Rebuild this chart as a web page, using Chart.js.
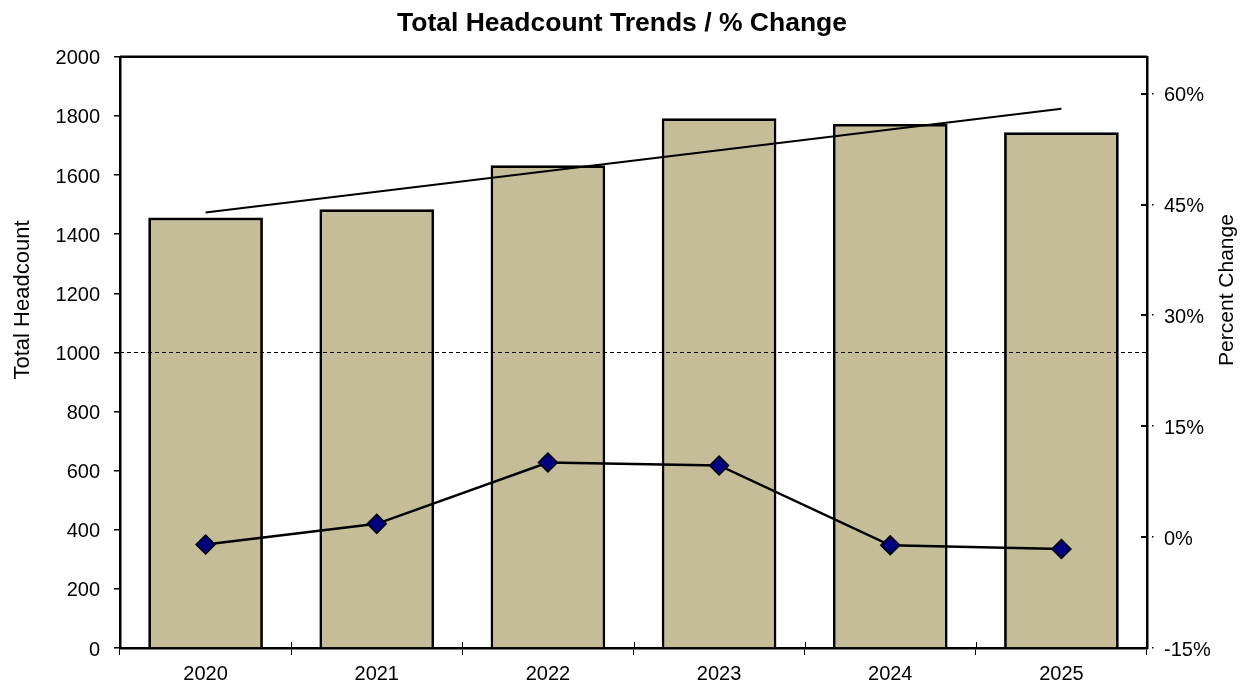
<!DOCTYPE html>
<html>
<head>
<meta charset="utf-8">
<script src="https://cdn.jsdelivr.net/npm/chart.js@4/dist/chart.umd.min.js"></script>
<style>
html,body{margin:0;padding:0;background:#fff;}
#wrap{width:1244px;height:685px;position:relative;}
</style>
</head>
<body>
<div id="wrap"><canvas id="c"></canvas></div>
<script>
const categories = ['2020','2021','2022','2023','2024','2025'];
const headcount = [1456, 1484, 1633, 1792, 1773, 1745];
const percentChange = [-0.010, 0.018, 0.101, 0.097, -0.011, -0.016];
const trendValues = [1473, null, null, null, null, 1824];
const leftTicks = [0,200,400,600,800,1000,1200,1400,1600,1800,2000];
const rightTicks = [-0.15, 0, 0.15, 0.30, 0.45, 0.60];
const referenceLine = 1000;
const leftAxisTitle = 'Total Headcount';
const rightAxisTitle = 'Percent Change';

const FONT = "'Liberation Sans', Arial, sans-serif";

const extrasPlugin = {
  id: 'extras',
  afterDatasetsDraw(chart) {
    const ctx = chart.ctx;
    const a = chart.chartArea;
    const ys = chart.scales.y;
    const y = Math.round(ys.getPixelForValue(referenceLine)) + 0.5;
    ctx.save();
    ctx.strokeStyle = '#000';
    ctx.lineWidth = 1;
    ctx.setLineDash([4, 3]);
    ctx.beginPath();
    ctx.moveTo(a.left, y);
    ctx.lineTo(a.right, y);
    ctx.stroke();
    ctx.restore();
  },
  afterDraw(chart) {
    const s = chart.scales.y1;
    const ctx = chart.ctx;
    const a = chart.chartArea;
    ctx.save();
    ctx.strokeStyle = '#000';
    ctx.fillStyle = '#000';
    ctx.lineWidth = 2;
    s.ticks.forEach(t => {
      const y = Math.round(s.getPixelForValue(t.value));
      ctx.beginPath();
      ctx.moveTo(s.left - 6, y);
      ctx.lineTo(s.left, y);
      ctx.stroke();
      ctx.fillRect(s.left + 5, y - 1, 1.5, 1.5);
    });
    ctx.lineWidth = 2.5;
    ctx.beginPath();
    ctx.moveTo(a.left, a.top);
    ctx.lineTo(a.right, a.top);
    ctx.stroke();
    ctx.lineWidth = 1;
    for (let i = 0; i <= categories.length; i++) {
      const x = Math.round(a.left + (a.right - a.left) * i / categories.length) + 0.5;
      ctx.beginPath();
      ctx.moveTo(x, a.bottom - 6);
      ctx.lineTo(x, a.bottom);
      ctx.stroke();
    }
    ctx.textAlign = 'center';
    ctx.textBaseline = 'alphabetic';
    ctx.font = '22px ' + FONT;
    ctx.save();
    ctx.translate(29, 300);
    ctx.rotate(-Math.PI / 2);
    ctx.fillText(leftAxisTitle, 0, 0);
    ctx.restore();
    ctx.font = '21px ' + FONT;
    ctx.save();
    ctx.translate(1233, 290);
    ctx.rotate(-Math.PI / 2);
    ctx.fillText(rightAxisTitle, 0, 0);
    ctx.restore();
    ctx.restore();
  }
};

new Chart(document.getElementById('c'), {
  data: {
    labels: categories,
    datasets: [
      {
        type: 'line',
        label: 'Trend',
        data: trendValues,
        yAxisID: 'y',
        spanGaps: true,
        borderColor: '#000',
        borderWidth: 2,
        pointRadius: 0,
        fill: false,
        order: 1
      },
      {
        type: 'line',
        label: 'Percent Change',
        data: percentChange,
        yAxisID: 'y1',
        borderColor: '#000',
        borderWidth: 2.5,
        pointStyle: 'rectRot',
        pointRadius: 9.5,
        pointBackgroundColor: '#000080',
        pointBorderColor: '#000',
        pointBorderWidth: 1.5,
        fill: false,
        tension: 0,
        order: 0
      },
      {
        type: 'bar',
        label: 'Total Headcount',
        data: headcount,
        yAxisID: 'y',
        backgroundColor: '#C4BD97',
        borderColor: '#000',
        borderWidth: 2.8,
        categoryPercentage: 0.67,
        barPercentage: 1.0,
        order: 2
      }
    ]
  },
  options: {
    responsive: true,
    maintainAspectRatio: false,
    animation: false,
    devicePixelRatio: 1,
    layout: { padding: 0 },
    plugins: {
      legend: { display: false },
      tooltip: { enabled: false },
      title: {
        display: true,
        text: 'Total Headcount Trends / % Change',
        color: '#000',
        font: { family: FONT, size: 26.5, weight: 'bold' },
        padding: { top: 8, bottom: 17 }
      }
    },
    scales: {
      x: {
        offset: true,
        grid: {
          offset: true,
          drawOnChartArea: false,
          drawTicks: true,
          tickLength: 7,
          color: '#000',
          lineWidth: 1
        },
        border: { display: true, color: '#000', width: 2.5 },
        ticks: { color: '#000', font: { family: FONT, size: 20 }, padding: 7 },
        afterFit(s) { s.height = 37; }
      },
      y: {
        position: 'left',
        min: 0,
        max: 2000,
        afterBuildTicks(s) { s.ticks = leftTicks.map(v => ({ value: v })); },
        grid: {
          drawOnChartArea: false,
          drawTicks: true,
          tickLength: 6,
          color: '#000',
          lineWidth: 1.5
        },
        border: { display: true, color: '#000', width: 2.5 },
        ticks: {
          color: '#000',
          font: { family: FONT, size: 20 },
          padding: 14,
          labelOffset: 2,
          callback: v => String(v)
        },
        title: { display: false },
        afterFit(s) { s.width = 120; }
      },
      y1: {
        position: 'right',
        min: -0.15,
        max: 0.65,
        afterBuildTicks(s) { s.ticks = rightTicks.map(v => ({ value: v })); },
        grid: { drawOnChartArea: false, drawTicks: false },
        border: { display: true, color: '#000', width: 2.5 },
        ticks: {
          color: '#000',
          font: { family: FONT, size: 20 },
          padding: 17,
          labelOffset: 2,
          callback: v => Math.round(v * 100) + '%'
        },
        title: { display: false },
        afterFit(s) { s.width = 97; }
      }
    }
  },
  plugins: [extrasPlugin]
});
</script>
</body>
</html>
